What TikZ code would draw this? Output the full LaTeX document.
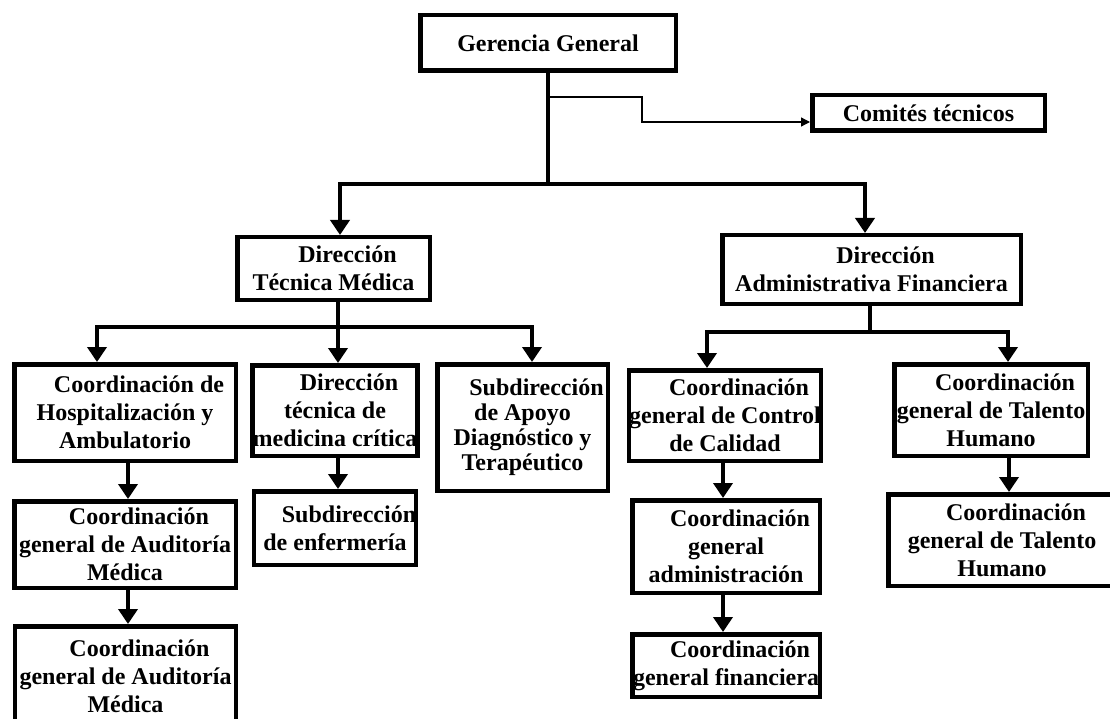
\documentclass[tikz,border=0pt]{standalone}
\usepackage{fontspec}
\setmainfont{Liberation Serif}
\usetikzlibrary{arrows.meta}

\newcommand{\firstind}{\hspace*{28pt}}

\begin{document}
\begin{tikzpicture}[x=1pt,y=-1pt,
    box/.style={draw,line width=4.5pt,inner sep=0pt,align=center,
                font=\bfseries\fontsize{24}{28}\selectfont},
    bar/.style={line width=4pt},
    arr/.style={-{Triangle[width=19pt,length=15pt]},line width=4pt},
    thinarr/.style={-{Triangle[width=9pt,length=9pt]},line width=1.3pt}]

    \useasboundingbox (0,0) rectangle (1110,719);

    % top
    \node[box,minimum width=255.5pt,minimum height=55.5pt] (gg) at (548,43) {Gerencia General};
    \node[box,minimum width=232.5pt,minimum height=35.5pt] (ct) at (928.5,113) {Comités técnicos};

    % direcciones
    \node[box,minimum width=192.5pt,minimum height=62.5pt] (dtm) at (333.5,268.5)
        {\firstind Dirección\\Técnica Médica};
    \node[box,minimum width=298.5pt,minimum height=68.5pt] (daf) at (871.5,269.5)
        {\firstind Dirección\\Administrativa Financiera};

    % rama tecnica
    \node[box,minimum width=221.5pt,minimum height=96.5pt] (hosp) at (125,412.5)
        {\firstind Coordinación de\\Hospitalización y\\Ambulatorio};
    \node[box,minimum width=161.5pt,minimum height=90.5pt] (crit) at (335,410.5)
        {\firstind Dirección\\técnica de\\medicina crítica};
    \node[box,minimum width=170.5pt,minimum height=126.5pt,
          font=\bfseries\fontsize{24}{25}\selectfont] (apoyo) at (522.5,427.5)
        {\firstind Subdirección\\de Apoyo\\Diagnóstico y\\Terapéutico};
    \node[box,minimum width=221.5pt,minimum height=86.5pt] (aud1) at (125,544.5)
        {\firstind Coordinación\\general de Auditoría\\Médica};
    \node[box,minimum width=221pt,minimum height=100pt] (aud2) at (125.5,676.25)
        {\firstind Coordinación\\general de Auditoría\\Médica};
    \node[box,minimum width=161.5pt,minimum height=73.5pt] (enf) at (335,528)
        {\firstind Subdirección\\de enfermería};

    % rama administrativa
    \node[box,minimum width=185.5pt,minimum height=90.5pt] (cal) at (725,415.5)
        {\firstind Coordinación\\general de Control\\de Calidad};
    \node[box,minimum width=187.5pt,minimum height=92.5pt] (adm) at (726,546.5)
        {\firstind Coordinación\\general\\administración};
    \node[box,minimum width=187.5pt,minimum height=62.5pt] (fin) at (726,665.5)
        {\firstind Coordinación\\general financiera};
    \node[box,minimum width=193.5pt,minimum height=91.5pt] (tal1) at (991,410)
        {\firstind Coordinación\\general de Talento\\Humano};
    \node[box,minimum width=227.5pt,minimum height=91.5pt] (tal2) at (1002,540)
        {\firstind Coordinación\\general de Talento\\Humano};

    \coordinate (tap) at (548,97);
    \coordinate (top) at (548,184);
    \coordinate (m1) at (338,327);
    \coordinate (m2) at (870,332);

    \draw[bar] (gg.south) -- (top);
    \draw[thinarr] (tap) -- ++(94,0) |- ([yshift=-9pt]ct.west);
    \draw[arr] (top) -| ([xshift=6.5pt]dtm.north);
    \draw[arr] (top) -| ([xshift=-6.5pt]daf.north);

    \draw[bar] (dtm.south -| m1) -- (m1);
    \draw[arr] (m1) -| ([xshift=-28pt]hosp.north);
    \draw[arr] (m1) -- (m1 |- crit.north);
    \draw[arr] (m1) -| ([xshift=9.5pt]apoyo.north);
    \draw[arr] ([xshift=3pt]hosp.south) -- ([xshift=3pt]aud1.north);
    \draw[arr] ([xshift=3pt]aud1.south) -- ([xshift=2.5pt]aud2.north);
    \draw[arr] ([xshift=3pt]crit.south) -- ([xshift=3pt]enf.north);

    \draw[bar] (daf.south -| m2) -- (m2);
    \draw[arr] (m2) -| ([xshift=-18pt]cal.north);
    \draw[arr] (m2) -| ([xshift=17pt]tal1.north);
    \draw[arr] ([xshift=-2pt]cal.south) -- ([xshift=-2pt]cal.south |- adm.north);
    \draw[arr] ([xshift=-3pt]adm.south) -- ([xshift=-3pt]fin.north);
    \draw[arr] ([xshift=18pt]tal1.south) -- ([xshift=18pt]tal1.south |- tal2.north);

\end{tikzpicture}
\end{document}
